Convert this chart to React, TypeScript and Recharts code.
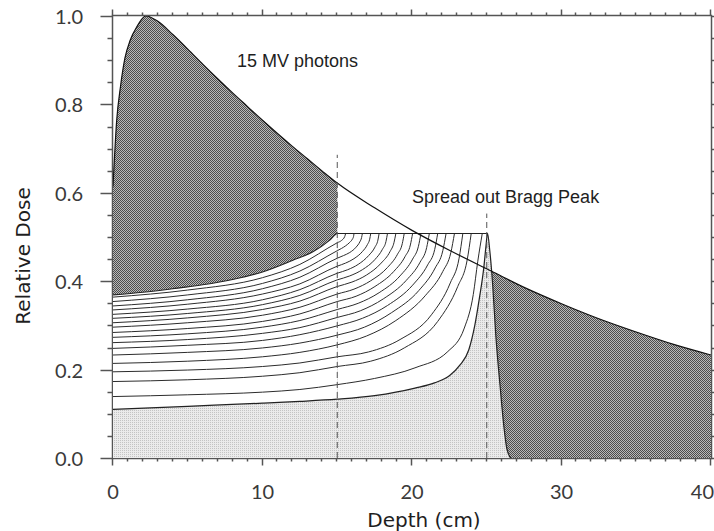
import React from 'react';
import { ComposedChart, Area, Line, XAxis, YAxis, ReferenceLine } from 'recharts';

// 15 MV photon depth dose
const photonDepth = [0, 0.25, 0.5, 0.8, 1.15, 1.6, 2.2, 3, 4, 5, 6, 7, 8, 9, 10, 11, 12, 13, 14, 15, 17.5, 20, 22.5, 25, 25.3, 27.5, 30, 32.5, 35, 37.5, 40];
const photonDose = [0.614, 0.765, 0.84, 0.905, 0.945, 0.976, 1.0, 0.988, 0.958, 0.925, 0.891, 0.858, 0.826, 0.795, 0.764, 0.734, 0.705, 0.677, 0.649, 0.622, 0.566, 0.515, 0.47, 0.428, 0.423, 0.386, 0.349, 0.315, 0.285, 0.257, 0.233];

// spread out Bragg peak (sum of all pristine peaks)
const sobpEnvelope = [[0, 0.369], [2, 0.375], [4, 0.383], [6, 0.392], [8, 0.404], [10, 0.421], [12, 0.447], [13.4, 0.467], [14.5, 0.493], [15, 0.508], [20, 0.508], [25.05, 0.508]];

// partial sums, shallowest to deepest
const curve02 = [[0, 0.364], [5, 0.380], [10, 0.408], [12.5, 0.438], [15, 0.487], [15.28, 0.492], [15.5, 0.501], [15.56, 0.508]];
const curve03 = [[0, 0.354], [5, 0.369], [10, 0.395], [12.5, 0.423], [15, 0.469], [15.28, 0.474], [15.56, 0.480], [15.84, 0.488], [16.01, 0.495], [16.09, 0.501], [16.12, 0.508]];
const curve04 = [[0, 0.344], [5, 0.358], [10, 0.383], [12.5, 0.409], [15, 0.452], [15.42, 0.458], [15.84, 0.465], [16.26, 0.477], [16.51, 0.489], [16.63, 0.499], [16.68, 0.508]];
const curve05 = [[0, 0.335], [5, 0.348], [10, 0.371], [12.5, 0.394], [15, 0.434], [15.56, 0.441], [16.12, 0.451], [16.68, 0.467], [17.02, 0.483], [17.17, 0.495], [17.24, 0.508]];
const curve06 = [[0, 0.325], [5, 0.337], [10, 0.358], [12.5, 0.381], [15, 0.418], [15.7, 0.426], [16.4, 0.438], [17.1, 0.458], [17.52, 0.477], [17.72, 0.493], [17.8, 0.508]];
const curve07 = [[0, 0.316], [5, 0.327], [10, 0.347], [12.5, 0.368], [15, 0.403], [15.84, 0.412], [16.68, 0.426], [17.52, 0.449], [18.02, 0.472], [18.26, 0.490], [18.36, 0.508]];
const curve08 = [[0, 0.306], [5, 0.317], [10, 0.336], [12.5, 0.355], [15, 0.388], [15.98, 0.398], [16.96, 0.414], [17.94, 0.441], [18.53, 0.467], [18.8, 0.488], [18.92, 0.508]];
const curve09 = [[0, 0.296], [5, 0.306], [10, 0.323], [12.5, 0.341], [15, 0.371], [16.12, 0.382], [17.24, 0.401], [18.36, 0.431], [19.03, 0.461], [19.35, 0.485], [19.48, 0.508]];
const curve10 = [[0, 0.284], [5, 0.293], [10, 0.309], [12.5, 0.326], [15, 0.354], [16.26, 0.366], [17.52, 0.388], [18.78, 0.422], [19.54, 0.456], [19.89, 0.482], [20.04, 0.508]];
const curve11 = [[0, 0.273], [5, 0.281], [10, 0.296], [12.5, 0.311], [15, 0.336], [16.4, 0.350], [17.8, 0.374], [19.2, 0.412], [20.04, 0.450], [20.43, 0.479], [20.6, 0.508]];
const curve12 = [[0, 0.261], [5, 0.268], [10, 0.282], [12.5, 0.295], [15, 0.318], [16.54, 0.333], [18.08, 0.360], [19.62, 0.402], [20.54, 0.443], [20.98, 0.476], [21.16, 0.508]];
const curve13 = [[0, 0.248], [5, 0.255], [10, 0.266], [12.5, 0.279], [15, 0.299], [16.68, 0.316], [18.36, 0.345], [20.04, 0.391], [21.05, 0.437], [21.52, 0.472], [21.72, 0.508]];
const curve14 = [[0, 0.233], [5, 0.239], [10, 0.249], [12.5, 0.260], [15, 0.278], [16.82, 0.296], [18.64, 0.329], [20.46, 0.379], [21.55, 0.430], [22.06, 0.469], [22.28, 0.508]];
const curve15 = [[0, 0.214], [5, 0.219], [10, 0.229], [12.5, 0.239], [15, 0.256], [16.96, 0.276], [18.92, 0.311], [20.88, 0.367], [22.06, 0.422], [22.6, 0.465], [22.84, 0.508]];
const curve16 = [[0, 0.195], [5, 0.199], [10, 0.207], [12.5, 0.215], [15, 0.229], [17.1, 0.240], [19.2, 0.268], [21.3, 0.324], [22.56, 0.396], [23.15, 0.452], [23.4, 0.508]];
const curve17 = [[0, 0.173], [5, 0.177], [10, 0.185], [12.5, 0.193], [15, 0.207], [17.24, 0.219], [19.48, 0.249], [21.72, 0.309], [23.06, 0.388], [23.69, 0.448], [23.96, 0.508]];
const curve18 = [[0, 0.139], [5, 0.143], [10, 0.149], [12.5, 0.155], [15, 0.166], [17.5, 0.180], [20.2, 0.204], [22.4, 0.241], [23.5, 0.294], [24.1, 0.37], [24.4, 0.445], [24.7, 0.508]];

// single (deepest) Bragg peak
const singlePeak = [[0, 0.110], [5, 0.117], [10, 0.124], [12.5, 0.128], [15, 0.133], [17.5, 0.141], [20.2, 0.158], [21.5, 0.170], [22.5, 0.186], [23.2, 0.21], [23.8, 0.245], [24.2, 0.30], [24.5, 0.36], [24.8, 0.43], [24.95, 0.48], [25.05, 0.508], [25.2, 0.47], [25.4, 0.39], [25.6, 0.28], [25.9, 0.16], [26.15, 0.07], [26.35, 0.02], [26.6, 0]];

const partialCurves = [curve02, curve03, curve04, curve05, curve06, curve07, curve08, curve09, curve10, curve11, curve12, curve13, curve14, curve15, curve16, curve17, curve18];

const sobpStart = 15;
const sobpEnd = 25;
const crossDepth = 25.3;
const leftDashTop = 0.686;
const rightDashTop = 0.553;

const X_MAX = 40;
const Y_MAX = 1;
const xMajorTicks = [0, 10, 20, 30, 40];
const yMajorTicks = [0, 0.2, 0.4, 0.6, 0.8, 1.0];
const xTicks = Array.from({ length: 41 }, (_, i) => i);
const yTicks = Array.from({ length: 21 }, (_, i) => Math.round(i * 5) / 100);

// plot box (matches chart margins + axis sizes)
const BOX = { left: 113, top: 16, width: 598, height: 442 };
const px = (t: number) => BOX.left + (t / X_MAX) * BOX.width;
const py = (t: number) => BOX.top + BOX.height - (t / Y_MAX) * BOX.height;

const toPoints = (pairs: number[][]) => pairs.map(([d, v]) => ({ d, v }));

const photonPoints = photonDepth.map((d, i) => ({ d, v: photonDose[i] }));
const darkLeft = photonPoints.filter((p) => p.d <= sobpStart);
const darkRight = photonPoints.filter((p) => p.d >= crossDepth);
const envelopeLeft = toPoints(sobpEnvelope.filter(([d]) => d <= sobpStart));

const AXIS = '#555';
const tickFont = { fontFamily: 'Lato, sans-serif', fontSize: 20, fill: '#3a3a3a' };

const isMajorY = (v: number) => yMajorTicks.some((t) => Math.abs(t - v) < 1e-6);
const isMajorX = (v: number) => xMajorTicks.includes(v);

const leftTick = (props: any) => {
  const { x, y, payload } = props;
  if (!isMajorY(payload.value)) return <g />;
  return (
    <text x={x - 30} y={y} textAnchor="end" dominantBaseline="central" {...tickFont}>
      {payload.value.toFixed(1)}
    </text>
  );
};

const bottomTick = (props: any) => {
  const { x, y, payload } = props;
  if (!isMajorX(payload.value)) return <g />;
  const last = payload.value === X_MAX;
  return (
    <text x={last ? x + 3 : x} y={y + 33} textAnchor={last ? 'end' : 'middle'} dominantBaseline="central" {...tickFont}>
      {payload.value}
    </text>
  );
};

const labelFont = { fontFamily: 'Liberation Sans, Arial, sans-serif', fill: '#1e1e1e' };

const Frame = () => {
  const l = BOX.left - 0.5;
  const r = BOX.left + BOX.width + 0.5;
  const t = BOX.top - 0.5;
  const b = BOX.top + BOX.height + 0.5;
  return (
    <g stroke={AXIS} strokeWidth={1.5} fill="none">
      <rect x={l} y={t} width={r - l} height={b - t} />
      {xTicks.map((v) => {
        const x = Math.round(px(v)) - 0.5;
        const big = isMajorX(v);
        return (
          <g key={`x${v}`}>
            <line x1={x} x2={x} y1={b} y2={b + (big ? 7 : 3)} />
            <line x1={x} x2={x} y1={t} y2={t - (big ? 6 : 3)} />
          </g>
        );
      })}
      {yTicks.map((v) => {
        const y = Math.round(py(v)) + 0.5;
        const big = isMajorY(v);
        return (
          <g key={`y${v}`}>
            <line x1={l} x2={l - (big ? 12 : 5)} y1={y} y2={y} />
            <line x1={r} x2={r + (big ? 6 : 3)} y1={y} y2={y} />
          </g>
        );
      })}
    </g>
  );
};

export default function App() {
  return (
    <div>
      <style>{'body{margin:0;overflow:hidden;background:#fff}'}</style>
      <ComposedChart width={714} height={531} margin={{ top: 16, right: 3, bottom: 33, left: 53 }}>
        <defs>
          <pattern id="darkDots" width="2" height="2" patternUnits="userSpaceOnUse">
            <rect width="2" height="2" fill="#b8b8b8" />
            <rect width="1" height="1" fill="#4c4c4c" />
            <rect x="1" y="1" width="1" height="1" fill="#4c4c4c" />
          </pattern>
          <pattern id="lightDots" width="2" height="2" patternUnits="userSpaceOnUse">
            <rect width="2" height="2" fill="#ebebeb" />
            <rect width="1" height="1" fill="#c4c4c4" />
          </pattern>
        </defs>
        <XAxis
          dataKey="d"
          type="number"
          domain={[0, X_MAX]}
          ticks={xTicks}
          interval={0}
          allowDataOverflow
          height={40}
          tickSize={0}
          tickMargin={0}
          tickLine={false}
          axisLine={false}
          tick={bottomTick}
        />
        <YAxis
          type="number"
          domain={[0, Y_MAX]}
          ticks={yTicks}
          interval={0}
          allowDataOverflow
          width={60}
          tickSize={0}
          tickMargin={0}
          tickLine={false}
          axisLine={false}
          tick={leftTick}
        />

        <Area data={darkLeft} dataKey="v" type="monotone" fill="url(#darkDots)" fillOpacity={1} stroke="none" isAnimationActive={false} />
        <Area data={envelopeLeft} dataKey="v" type="monotone" fill="#ffffff" fillOpacity={1} stroke="none" isAnimationActive={false} />
        <Area data={darkRight} dataKey="v" type="monotone" fill="url(#darkDots)" fillOpacity={1} stroke="none" isAnimationActive={false} />
        <Area data={toPoints(singlePeak)} dataKey="v" type="monotone" fill="url(#lightDots)" fillOpacity={1} stroke="none" isAnimationActive={false} />

        {partialCurves.map((c, i) => (
          <Line key={i} data={toPoints(c)} dataKey="v" type="monotone" stroke="#2c2c2c" strokeWidth={1} dot={false} isAnimationActive={false} />
        ))}
        <Line data={toPoints(singlePeak)} dataKey="v" type="monotone" stroke="#222" strokeWidth={1.2} dot={false} isAnimationActive={false} />
        <Line data={toPoints(sobpEnvelope)} dataKey="v" type="monotone" stroke="#222" strokeWidth={1.1} dot={false} isAnimationActive={false} />
        <Line data={photonPoints} dataKey="v" type="monotone" stroke="#111" strokeWidth={1.2} dot={false} isAnimationActive={false} />

        <ReferenceLine segment={[{ x: sobpStart, y: 0 }, { x: sobpStart, y: leftDashTop }]} stroke="#555" strokeDasharray="6 4" />
        <ReferenceLine segment={[{ x: sobpEnd, y: 0 }, { x: sobpEnd, y: rightDashTop }]} stroke="#555" strokeDasharray="6 4" />

        <text x={237} y={67} fontSize={18} {...labelFont}>15 MV photons</text>
        <text x={412} y={203} fontSize={18} {...labelFont}>Spread out Bragg Peak</text>
        <text x={163} y={439} fontSize={17.5} {...labelFont}>Single Bragg Peak</text>
        <text x={424} y={527} textAnchor="middle" fontFamily="DejaVu Sans, sans-serif" fontSize={20} fill="#1e1e1e">Depth (cm)</text>
        <text x={23} y={256} textAnchor="middle" dominantBaseline="central" transform="rotate(-90 23 256)" fontFamily="DejaVu Sans, sans-serif" fontSize={20} fill="#1e1e1e">Relative Dose</text>

        <Frame />
      </ComposedChart>
    </div>
  );
}
